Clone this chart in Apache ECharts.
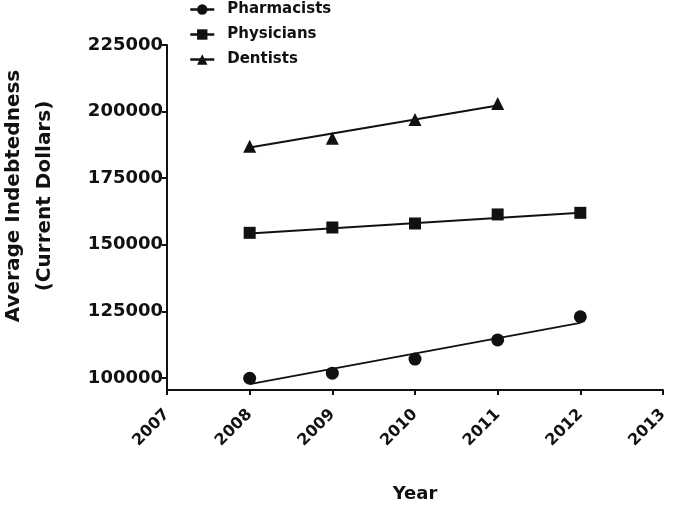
<!DOCTYPE html>
<html>
<head>
<meta charset="utf-8">
<script src="https://cdn.jsdelivr.net/npm/echarts@6/dist/echarts.min.js"></script>
<style>
html,body{margin:0;padding:0;background:#fff;}
#chart{width:690px;height:505px;}
</style>
</head>
<body>
<div id="chart"></div>
<script>
// Data
var years = [2008, 2009, 2010, 2011, 2012];
var dentistYears = [2008, 2009, 2010, 2011];
var pharmacists = [99900, 101800, 107100, 114300, 123000];
var physicians = [154500, 156500, 158000, 161400, 162000];
var dentists = [187000, 190000, 197000, 203000];
// Fitted trend line end points
var pharmFitYears = [2008, 2012];
var pharmFit = [97700, 120700];
var physFitYears = [2008, 2012];
var physFit = [154200, 162000];
var dentFitYears = [2008, 2011];
var dentFit = [186500, 202300];
var yTicks = [100000, 125000, 150000, 175000, 200000, 225000];

function pairs(xs, ys) { return xs.map(function (x, i) { return [x, ys[i]]; }); }

var FONT = 'DejaVu Sans';
var INK = '#111';

var chart = echarts.init(document.getElementById('chart'), null, {renderer: 'canvas'});

function dataSeries(name, xs, ys, symbol, size) {
  return {
    name: name, type: 'line', data: pairs(xs, ys),
    symbol: symbol, symbolSize: size, showSymbol: true,
    itemStyle: {color: INK},
    lineStyle: {color: INK, width: 2, opacity: 0},
    z: 3, animation: false
  };
}
function fitSeries(name, xs, ys) {
  return {
    name: name, type: 'line', data: pairs(xs, ys),
    symbol: 'none', silent: true,
    lineStyle: {color: INK, width: 2},
    z: 2, animation: false
  };
}

chart.setOption({
  animation: false,
  backgroundColor: '#fff',
  grid: {left: 167, right: 27, top: 45, bottom: 115, containLabel: false, outerBoundsMode: 'none'},
  legend: {
    data: ['Pharmacists', 'Physicians', 'Dentists'],
    orient: 'vertical', left: 189, top: 2, padding: 0,
    itemWidth: 24, itemHeight: 13, itemGap: 10,
    lineStyle: {opacity: 1, width: 2.5, color: INK},
    textStyle: {fontFamily: FONT, fontWeight: 'bold', fontSize: 15, color: INK, padding: [0, 0, 0, 8]},
    selectedMode: false
  },
  xAxis: {
    type: 'value', min: 2007, max: 2013, interval: 1,
    name: 'Year', nameLocation: 'middle', nameGap: 95,
    nameTextStyle: {fontFamily: FONT, fontWeight: 'bold', fontSize: 18, color: INK},
    axisLine: {lineStyle: {color: INK, width: 2}},
    axisTick: {show: true, length: 5, lineStyle: {color: INK, width: 2}},
    axisLabel: {rotate: 45, margin: 22, fontFamily: FONT, fontWeight: 'bold', fontSize: 16, color: INK,
      formatter: function (v) { return String(v); }},
    splitLine: {show: false}
  },
  yAxis: {
    type: 'value', min: 95500, max: 225000,
    axisLine: {show: true, lineStyle: {color: INK, width: 2}},
    axisTick: {show: true, length: 5, lineStyle: {color: INK, width: 2}, customValues: yTicks},
    axisLabel: {margin: 4, fontFamily: FONT, fontWeight: 'bold', fontSize: 18, color: INK, customValues: yTicks,
      formatter: function (v) { return String(v); }},
    splitLine: {show: false}
  },
  graphic: [{
    type: 'text', x: 29, y: 196, rotation: Math.PI / 2,
    style: {
      text: 'Average Indebtedness\n(Current Dollars)',
      x: 0, y: 0, align: 'center', verticalAlign: 'middle',
      font: 'bold 20px "DejaVu Sans"', fill: INK, lineHeight: 31
    }
  }],
  series: [
    fitSeries('Pharmacists fit', pharmFitYears, pharmFit),
    fitSeries('Physicians fit', physFitYears, physFit),
    fitSeries('Dentists fit', dentFitYears, dentFit),
    dataSeries('Pharmacists', years, pharmacists, 'circle', 13),
    dataSeries('Physicians', years, physicians, 'rect', 12),
    dataSeries('Dentists', dentistYears, dentists, 'triangle', 13)
  ]
});
</script>
</body>
</html>
